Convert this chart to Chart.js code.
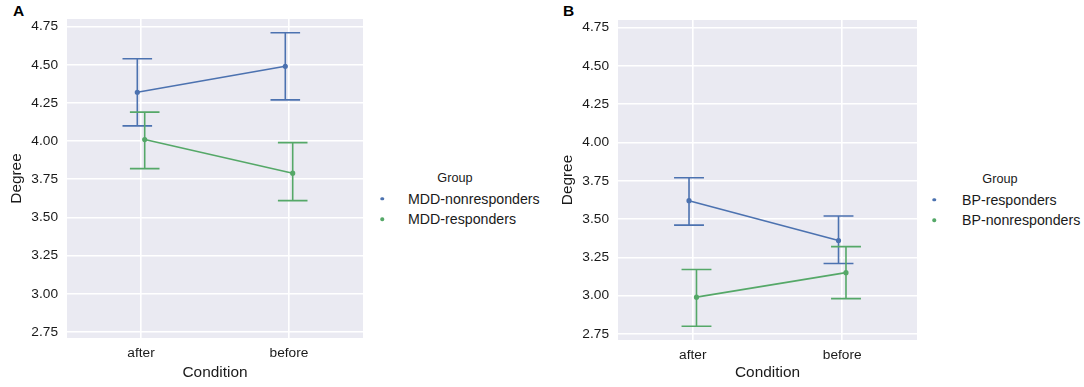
<!DOCTYPE html>
<html>
<head>
<meta charset="utf-8">
<script src="https://cdn.jsdelivr.net/npm/chart.js@4"></script>
<style>
  body { margin: 0; width: 1084px; height: 387px; background: #fff; position: relative; overflow: hidden;
         font-family: "Liberation Sans", Arial, sans-serif; color: #1a1a1a; }
  .wrap { position: absolute; top: 0; height: 387px; }
  .panel-tag { position: absolute; top: 3px; font-weight: bold; font-size: 15.5px; line-height: 1; color: #000; }
  .legend { position: absolute; }
  .legend .title { position: absolute; font-size: 12.7px; transform: translate(-50%, -50%); white-space: nowrap; }
  .legend .item { position: absolute; font-size: 14.2px; white-space: nowrap; transform: translateY(-50%); }
  .legend .dot { position: absolute; width: 3.5px; height: 3.5px; border-radius: 50%; transform: translate(-50%, -50%); }
</style>
</head>
<body>
<div class="panel-tag" style="left:13px">A</div>
<div class="panel-tag" style="left:563px">B</div>
<div class="wrap" style="left:0; width:372px"><canvas id="chartA"></canvas></div>
<div class="wrap" style="left:551px; width:374px"><canvas id="chartB"></canvas></div>
<div id="legendA"></div>
<div id="legendB"></div>
<script>
// categories and ticks
const conditions = ['after', 'before'];
const y_ticks = [2.75, 3.00, 3.25, 3.50, 3.75, 4.00, 4.25, 4.50, 4.75];
const colors = ['#4C72B0', '#55A868'];

// panel A: MDD
const groups_a = ['MDD-nonresponders', 'MDD-responders'];
const mdd_non_mean = [4.32, 4.49];
const mdd_non_low = [4.10, 4.27];
const mdd_non_high = [4.54, 4.71];
const mdd_resp_mean = [4.01, 3.79];
const mdd_resp_low = [3.82, 3.61];
const mdd_resp_high = [4.19, 3.99];

// panel B: BP
const groups_b = ['BP-responders', 'BP-nonresponders'];
const bp_resp_mean = [3.62, 3.36];
const bp_resp_low = [3.46, 3.21];
const bp_resp_high = [3.77, 3.52];
const bp_non_mean = [2.99, 3.15];
const bp_non_low = [2.80, 2.98];
const bp_non_high = [3.17, 3.32];

const dodge = [-0.025, 0.025];
const capsize = 0.2;
const font_family = '"Liberation Sans", Arial, sans-serif';
const text_color = '#1a1a1a';

// draws the confidence interval bars using the chart scales
const errorBars = {
    id: 'errorBars',
    afterDatasetsDraw(chart) {
        const ctx = chart.ctx;
        const xs = chart.scales.x, ys = chart.scales.y;
        chart.data.datasets.forEach(function(ds) {
            ctx.save();
            ctx.strokeStyle = ds.borderColor;
            ctx.lineWidth = 1.6;
            ds.data.forEach(function(p, i) {
                const x = xs.getPixelForValue(p.x);
                const x0 = xs.getPixelForValue(p.x - capsize / 2);
                const x1 = xs.getPixelForValue(p.x + capsize / 2);
                const lo = ys.getPixelForValue(ds.low[i]);
                const hi = ys.getPixelForValue(ds.high[i]);
                ctx.beginPath();
                ctx.moveTo(x, lo); ctx.lineTo(x, hi);
                ctx.moveTo(x0, lo); ctx.lineTo(x1, lo);
                ctx.moveTo(x0, hi); ctx.lineTo(x1, hi);
                ctx.stroke();
            });
            ctx.restore();
        });
    }
};

// grey seaborn-like plot background
const plotBg = {
    id: 'plotBg',
    beforeDraw(chart) {
        const a = chart.chartArea;
        chart.ctx.save();
        chart.ctx.fillStyle = '#EAEAF2';
        chart.ctx.fillRect(a.left, a.top, a.right - a.left, a.bottom - a.top);
        chart.ctx.restore();
    }
};

function make_dataset(label, idx, mean, low, high) {
    return {
        label: label,
        data: conditions.map((c, i) => ({x: i + dodge[idx], y: mean[i]})),
        low: low,
        high: high,
        borderColor: colors[idx],
        backgroundColor: colors[idx],
        borderWidth: 1.6,
        pointRadius: 1.8,
        pointHoverRadius: 1.8,
        tension: 0
    };
}

function draw_chart(id, datasets, top, xHeight, yWidth, rightPad) {
    const ctx = document.getElementById(id);
    new Chart(ctx, {
        type: 'line',
        data: { datasets: datasets },
        plugins: [plotBg, errorBars],
        options: {
            responsive: true,
            maintainAspectRatio: false,
            animation: false,
            layout: { padding: { top: top, right: rightPad, left: 0, bottom: 0 } },
            plugins: {
                legend: { display: false },
                tooltip: { enabled: false }
            },
            scales: {
                x: {
                    type: 'linear',
                    min: -0.5,
                    max: 1.5,
                    afterBuildTicks: function(scale) {
                        scale.ticks = conditions.map((c, i) => ({value: i}));
                    },
                    afterFit: function(scale) { scale.height = xHeight; },
                    grid: { color: '#ffffff', lineWidth: 1.6, drawTicks: false },
                    border: { display: false },
                    ticks: {
                        padding: 7,
                        color: text_color,
                        font: { family: font_family, size: 13.7 },
                        callback: function(value) { return conditions[value]; }
                    },
                    title: {
                        display: true,
                        text: 'Condition',
                        color: text_color,
                        font: { family: font_family, size: 15.4 },
                        padding: { top: 0, bottom: 5 }
                    }
                },
                y: {
                    type: 'linear',
                    min: 2.71,
                    max: 4.80,
                    afterBuildTicks: function(scale) {
                        scale.ticks = y_ticks.map(v => ({value: v}));
                    },
                    afterFit: function(scale) { scale.width = yWidth; },
                    grid: { color: '#ffffff', lineWidth: 1.6, drawTicks: false },
                    border: { display: false },
                    ticks: {
                        padding: 9,
                        color: text_color,
                        font: { family: font_family, size: 13.7 },
                        callback: function(value) { return value.toFixed(2); }
                    },
                    title: {
                        display: true,
                        text: 'Degree',
                        color: text_color,
                        font: { family: font_family, size: 15.4 },
                        padding: { top: 8, bottom: 0 }
                    }
                }
            }
        }
    });
}

function draw_legend(id, groups, cx, textX, dotX, y0) {
    const el = document.getElementById(id);
    let html = '<div class="legend"><div class="title" style="left:' + cx + 'px;top:' + y0 + 'px">Group</div>';
    groups.forEach(function(g, i) {
        const y = y0 + 20.5 * (i + 1);
        html += '<div class="dot" style="left:' + dotX + 'px;top:' + y + 'px;background:' + colors[i] + '"></div>';
        html += '<div class="item" style="left:' + textX + 'px;top:' + y + 'px">' + g + '</div>';
    });
    el.innerHTML = html + '</div>';
}

draw_chart('chartA', [
    make_dataset(groups_a[0], 0, mdd_non_mean, mdd_non_low, mdd_non_high),
    make_dataset(groups_a[1], 1, mdd_resp_mean, mdd_resp_low, mdd_resp_high)
], 19, 49, 67, 9);
draw_chart('chartB', [
    make_dataset(groups_b[0], 0, bp_resp_mean, bp_resp_low, bp_resp_high),
    make_dataset(groups_b[1], 1, bp_non_mean, bp_non_low, bp_non_high)
], 20, 47, 67, 8);

draw_legend('legendA', groups_a, 455, 408, 382, 178);
draw_legend('legendB', groups_b, 1000, 962, 934, 179);
</script>
</body>
</html>
